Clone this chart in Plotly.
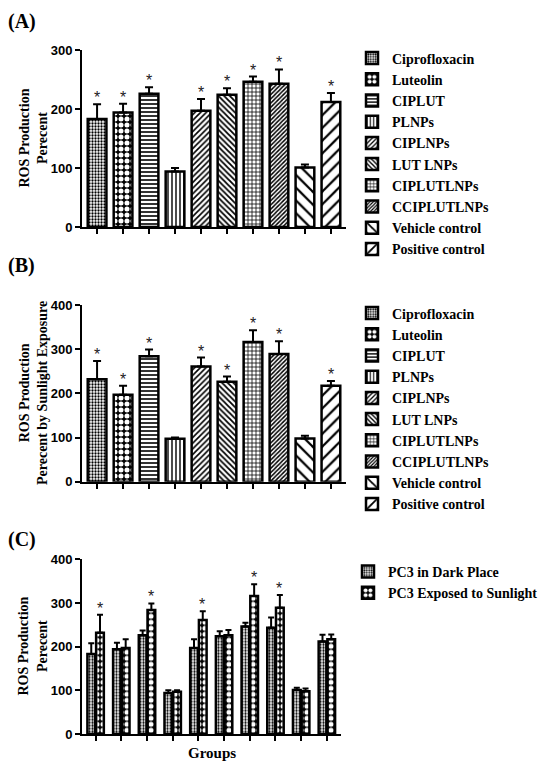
import plotly.graph_objects as go

# groups and readings
groups = ["Ciprofloxacin", "Luteolin", "CIPLUT", "PLNPs", "CIPLNPs", "LUT LNPs",
          "CIPLUTLNPs", "CCIPLUTLNPs", "Vehicle control", "Positive control"]

ros_dark = [183, 194, 226, 94, 197, 224, 246, 243, 101, 212]
err_dark = [25, 15, 11, 6, 20, 11, 9, 24, 5, 15]

ros_sun = [232, 197, 284, 97, 261, 226, 316, 289, 98, 217]
err_sun = [41, 20, 15, 3, 20, 12, 27, 29, 6, 11]

signif_a = [1, 1, 1, 0, 1, 1, 1, 1, 0, 1]
signif_b = [1, 1, 1, 0, 1, 1, 1, 1, 0, 1]
signif_c = [1, 0, 1, 0, 1, 0, 1, 1, 0, 0]

series_c = ["PC3 in Dark Place", "PC3 Exposed to Sunlight"]

# pattern per group (shape, size, solidity, fg, bg)
patterns = [
    (".", 3, 0.45, "black", "white"),
    (".", 6, 0.55, "white", "black"),
    ("-", 4, 0.4, "black", "white"),
    ("|", 4, 0.35, "black", "white"),
    ("/", 4, 0.4, "black", "white"),
    ("\\", 4, 0.45, "black", "white"),
    ("+", 4, 0.35, "black", "white"),
    ("/", 3, 0.5, "black", "white"),
    ("\\", 9, 0.25, "black", "white"),
    ("/", 9, 0.25, "black", "white"),
]

serif = "Liberation Serif"
sans = "Liberation Sans"
# the page puts the figure 8px in from the top-left corner
OFF = 8
W, H = 550 - OFF, 768 - OFF

def px_x(p):
    return (p - OFF) / W

def py(p):
    return 1 - (p - OFF) / H

fig = go.Figure()

def add_panel(vals, errs, xa, ya, leg):
    for i, g in enumerate(groups):
        shp, sz, sol, fg, bg = patterns[i]
        fig.add_trace(go.Bar(
            x=[g], y=[vals[i]], name=g, xaxis=xa, yaxis=ya, legend=leg,
            width=0.72, offset=-0.36,
            marker=dict(color="white", line=dict(color="black", width=2.5),
                        pattern=dict(shape=shp, size=sz, solidity=sol,
                                     fgcolor=fg, bgcolor=bg, fillmode="replace")),
            error_y=dict(type="data", array=[errs[i]], arrayminus=[0], symmetric=False,
                         color="black", thickness=2, width=4),
        ))

add_panel(ros_dark, err_dark, "x", "y", "legend")
add_panel(ros_sun, err_sun, "x2", "y2", "legend2")

# panel C: grouped pairs
for k, (vals, errs) in enumerate([(ros_dark, err_dark), (ros_sun, err_sun)]):
    shp, sz, sol, fg, bg = patterns[k]
    fig.add_trace(go.Bar(
        x=groups, y=vals, name=series_c[k], xaxis="x3", yaxis="y3", legend="legend3",
        width=0.3, offset=-0.32 if k == 0 else 0.02,
        marker=dict(color="white", line=dict(color="black", width=2.5),
                    pattern=dict(shape=shp, size=sz, solidity=sol,
                                 fgcolor=fg, bgcolor=bg, fillmode="replace")),
        error_y=dict(type="data", array=errs, arrayminus=[0] * len(errs), symmetric=False,
                     color="black", thickness=2, width=3),
    ))

annos = []
def stars(vals, errs, flags, xr, yr, xshift=0):
    for g, v, e, f in zip(groups, vals, errs, flags):
        if f:
            annos.append(dict(x=g, y=v + e, xref=xr, yref=yr, text="*", showarrow=False,
                              yanchor="bottom", xshift=xshift, yshift=-4,
                              font=dict(family=sans, size=16, color="#222")))

stars(ros_dark, err_dark, signif_a, "x", "y")
stars(ros_sun, err_sun, signif_b, "x2", "y2")
stars(ros_sun, err_sun, signif_c, "x3", "y3", xshift=4)

def ytitle(text, ycen):
    annos.append(dict(x=px_x(33), y=ycen, xref="paper", yref="paper", text=text,
                      textangle=-90, showarrow=False, xanchor="center", yanchor="middle",
                      font=dict(family=serif, size=14, color="black", weight="bold")))

ytitle("ROS Production<br>Perecent", py(138.5))
ytitle("ROS Production<br>Perecent by Sunlight Exposure", py(393))
ytitle("ROS Production<br>Perecent", py(646.6))

for lab, ypx in [("(A)", 8), ("(B)", 252), ("(C)", 526)]:
    annos.append(dict(x=px_x(6), y=py(ypx), xref="paper", yref="paper", text=lab,
                      showarrow=False, xanchor="left", yanchor="top",
                      font=dict(family=serif, size=20, color="black", weight="bold")))

annos.append(dict(x=px_x(212), y=py(753), xref="paper", yref="paper", text="Groups",
                  showarrow=False, xanchor="center", yanchor="middle",
                  font=dict(family=serif, size=15, color="black", weight="bold")))

xcommon = dict(type="category", showticklabels=False, ticks="outside", ticklen=5,
               tickwidth=1.5, tickcolor="black", showline=True, linecolor="black",
               linewidth=2, showgrid=False, zeroline=False, fixedrange=True)
ycommon = dict(ticks="outside", ticklen=5, tickwidth=2, tickcolor="black",
               showline=True, linecolor="black", linewidth=2, showgrid=False,
               zeroline=False, tickfont=dict(family=sans, size=13, color="black", weight="bold"))

legfont = dict(family=serif, size=14, color="black", weight="bold")

fig.update_layout(
    width=W, height=H, margin=dict(l=0, r=0, t=0, b=0, autoexpand=False),
    paper_bgcolor="white", plot_bgcolor="white",
    barmode="overlay", showlegend=True,
    xaxis=dict(xcommon, domain=[px_x(82), px_x(346)], range=[-0.58, 9.58], anchor="y"),
    yaxis=dict(ycommon, domain=[py(227), py(50)], range=[0, 300], tickvals=[0, 100, 200, 300], anchor="x"),
    xaxis2=dict(xcommon, domain=[px_x(82), px_x(346)], range=[-0.58, 9.58], anchor="y2"),
    yaxis2=dict(ycommon, domain=[py(481.7), py(305)], range=[0, 400], tickvals=[0, 100, 200, 300, 400], anchor="x2"),
    xaxis3=dict(xcommon, domain=[px_x(82), px_x(341)], range=[-0.53, 9.55], anchor="y3"),
    yaxis3=dict(ycommon, domain=[py(734), py(559.3)], range=[0, 400], tickvals=[0, 100, 200, 300, 400], anchor="x3"),
    legend=dict(x=px_x(352), y=py(42.5), xanchor="left", yanchor="top", font=legfont,
                itemwidth=30, bgcolor="rgba(0,0,0,0)", tracegroupgap=0),
    legend2=dict(x=px_x(352), y=py(297.5), xanchor="left", yanchor="top", font=legfont,
                 itemwidth=30, bgcolor="rgba(0,0,0,0)", tracegroupgap=0),
    legend3=dict(x=px_x(348), y=py(556), xanchor="left", yanchor="top", font=legfont,
                 itemwidth=30, bgcolor="rgba(0,0,0,0)", tracegroupgap=0),
    annotations=annos,
)

fig.write_html("out.html")
